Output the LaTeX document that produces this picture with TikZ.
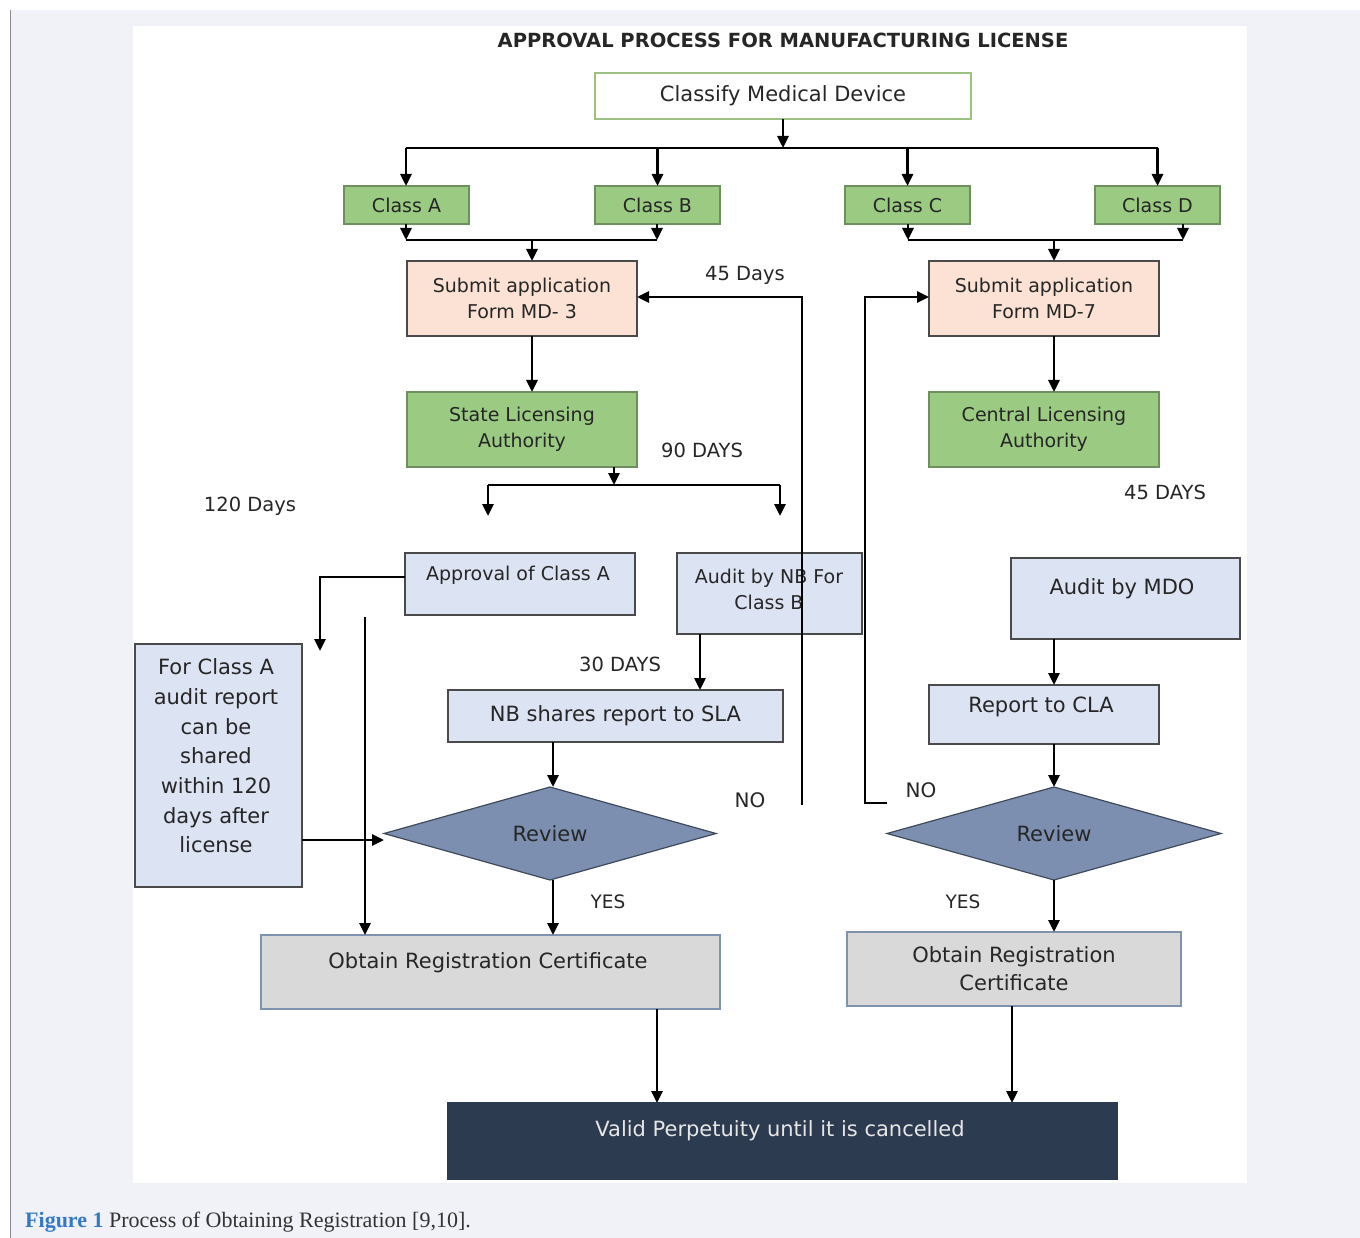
\documentclass[tikz,border=0pt]{standalone}
\usepackage{fontspec}
\setmainfont{DejaVu Sans}
\newfontfamily\serf{Liberation Serif}
\usetikzlibrary{arrows.meta,shapes.geometric}
\definecolor{bgc}{HTML}{F0F2F7}
\definecolor{bordl}{HTML}{8C8C8C}
\definecolor{txtc}{HTML}{262626}
\definecolor{grnf}{HTML}{9BCA82}
\definecolor{grnd}{HTML}{6F8F5F}
\definecolor{clsb}{HTML}{9BC283}
\definecolor{peachf}{HTML}{FBE2D4}
\definecolor{bluf}{HTML}{DCE3F3}
\definecolor{boxd}{HTML}{4A4A4A}
\definecolor{gryf}{HTML}{D9D9D9}
\definecolor{gryd}{HTML}{7F92B0}
\definecolor{diaf}{HTML}{7C8FB0}
\definecolor{diad}{HTML}{3F4A5A}
\definecolor{validf}{HTML}{2D3B50}
\definecolor{validt}{HTML}{E6E6E6}
\definecolor{capb}{HTML}{3478C6}
\definecolor{capt}{HTML}{333333}
\newcommand{\fsz}[2]{\fontsize{#1}{#2}\selectfont}
\begin{document}
\begin{tikzpicture}[x=1pt,y=-1pt,
  base/.style={rectangle, inner sep=0pt, outer sep=0pt, line width=1.2pt, text=txtc, align=center},
  grn/.style={base, fill=grnf, draw=grnd},
  peach/.style={base, fill=peachf, draw=boxd},
  blu/.style={base, fill=bluf, draw=boxd},
  gry/.style={base, fill=gryf, draw=gryd},
  dia/.style={diamond, inner sep=0pt, outer sep=0pt, fill=diaf, draw=diad, line width=1.2pt, text=txtc},
  lbl/.style={inner sep=0pt, text=txtc, align=center},
  arr/.style={line width=2.8pt, -{Triangle[length=12pt,width=11pt]}},
  ln/.style={line width=2.8pt}]
\useasboundingbox (0,0) rectangle (1360,1238);
% page background
\fill[white] (0,0) rectangle (1360,1238);
\fill[bgc] (10,10) rectangle (1360,1238);
\draw[bordl, line width=1pt] (10,10) -- (10,1238);
\fill[white] (133,26) rectangle (1247,1183);

% title
\node[lbl, font=\bfseries\fsz{19.5}{23}] (title) at (783,40) {APPROVAL PROCESS FOR MANUFACTURING LICENSE};

% boxes
\node[base, fill=white, draw=clsb, minimum width=376pt, minimum height=46pt, font=\fsz{21}{25}] (classify) at (783,96) {Classify Medical Device};
\node[grn, minimum width=125pt, minimum height=38pt, font=\fsz{19}{23}] (clsA) at (406.5,205) {Class A};
\node[grn, minimum width=125pt, minimum height=38pt, font=\fsz{19}{23}] (clsB) at (657.5,205) {Class B};
\node[grn, minimum width=125pt, minimum height=38pt, font=\fsz{19}{23}] (clsC) at (907.5,205) {Class C};
\node[grn, minimum width=125pt, minimum height=38pt, font=\fsz{19}{23}] (clsD) at (1157.5,205) {Class D};

\node[peach, minimum width=230pt, minimum height=75pt, font=\fsz{19}{26}] (md3) at (522,298.5) {Submit application\\Form MD- 3};
\node[peach, minimum width=230pt, minimum height=75pt, font=\fsz{19}{26}] (md7) at (1044,298.5) {Submit application\\Form MD-7};
\node[grn, minimum width=230pt, minimum height=75pt, font=\fsz{19}{26}] (sla) at (522,429.5) {State Licensing\\Authority};
\node[grn, minimum width=230pt, minimum height=75pt, font=\fsz{19}{26}] (cla) at (1044,429.5) {Central Licensing\\Authority};

\node[blu, minimum width=230pt, minimum height=62pt] (appA) at (520,584) {};
\node[lbl, font=\fsz{19}{23}] (appAt) at (518,575) {Approval of Class A};
\node[blu, minimum width=185pt, minimum height=81pt] (auditNB) at (769.5,593.5) {};
\node[lbl, font=\fsz{19}{26}] (auditNBt) at (769,589) {Audit by NB For\\Class B};
\node[blu, minimum width=167pt, minimum height=243pt] (forA) at (218.5,765.5) {};
\node[lbl, font=\fsz{21}{29.7}] (forAt) at (216,756) {For Class A\\audit report\\can be\\shared\\within 120\\days after\\license};
\node[blu, minimum width=335pt, minimum height=52pt, font=\fsz{21}{25}] (nbs) at (615.5,716) {NB shares report to SLA};

\node[blu, minimum width=229pt, minimum height=81pt] (mdo) at (1125.5,598.5) {};
\node[lbl, font=\fsz{21}{25}] (mdot) at (1122,589) {Audit by MDO};
\node[blu, minimum width=230pt, minimum height=59pt] (rcla) at (1044,714.5) {};
\node[lbl, font=\fsz{21}{25}] (rclat) at (1041,707) {Report to CLA};

\node[dia, minimum width=332pt, minimum height=93pt, font=\fsz{21}{25}] (rev1) at (550,833.5) {Review};
\node[dia, minimum width=334pt, minimum height=93pt, font=\fsz{21}{25}] (rev2) at (1054,833.5) {Review};

\node[gry, minimum width=459pt, minimum height=74pt] (obtL) at (490.5,972) {};
\node[lbl, font=\fsz{21}{25}] (obtLt) at (488,963) {Obtain Registration Certificate};
\node[gry, minimum width=334pt, minimum height=74pt, font=\fsz{21}{28}] (obtR) at (1014,969) {Obtain Registration\\Certificate};

\node[base, fill=validf, draw=validf, minimum width=669pt, minimum height=76pt] (valid) at (782.5,1141) {};
\node[lbl, text=validt, font=\fsz{21}{25}] (validt) at (780,1131) {Valid Perpetuity until it is cancelled};

% labels
\node[lbl, font=\fsz{19.5}{23}] (d45a) at (745,275) {45 Days};
\node[lbl, font=\fsz{19.5}{23}] (d90) at (702,450) {90 DAYS};
\node[lbl, font=\fsz{19.5}{23}] (d120) at (250,506) {120 Days};
\node[lbl, font=\fsz{19.5}{23}] (d45b) at (1165,492) {45 DAYS};
\node[lbl, font=\fsz{19.5}{23}] (d30) at (620,664) {30 DAYS};
\node[lbl, font=\fsz{20}{23}] (no1) at (750,800) {NO};
\node[lbl, font=\fsz{20}{23}] (no2) at (921,790) {NO};
\node[lbl, font=\fsz{18.5}{23}] (yes1) at (608,902) {YES};
\node[lbl, font=\fsz{18.5}{23}] (yes2) at (963,902) {YES};

% caption
\node[anchor=west, inner sep=0pt, text=capt, font=\serf\fsz{22}{26}] (cap) at (25,1222) {\textcolor{capb}{\bfseries Figure 1} Process of Obtaining Registration [9,10].};

% coordinates
\coordinate (busT) at (783,148);
\coordinate (busTa) at (406,148);
\coordinate (busTd) at (1158,148);
\coordinate (busL) at (532,240);
\coordinate (busLa) at (406,240);
\coordinate (busLb) at (657,240);
\coordinate (busR) at (1054,240);
\coordinate (busRc) at (908,240);
\coordinate (busRd) at (1183,240);
\coordinate (busS) at (614,485);
\coordinate (busSa) at (488,485);
\coordinate (busSb) at (780,485);
\coordinate (endSa) at (488,516);
\coordinate (endSb) at (780,516);
\coordinate (appCorner) at (320,577);
\coordinate (appEnd) at (320,651);
\coordinate (vStart) at (365,617);
\coordinate (noL) at (802,805);
\coordinate (noLtop) at (802,297);
\coordinate (noR) at (887,803);
\coordinate (noRbot) at (865,803);
\coordinate (noRtop) at (865,297);

% connectors
\draw[arr] (classify.south) -- (busT);
\draw[ln] (busTa) -- (busTd);
\draw[arr] (busTa) -- (busTa |- clsA.north);
\draw[arr] (clsB.north |- busT) -- (clsB.north);
\draw[arr] (clsC.north |- busT) -- (clsC.north);
\draw[arr] (clsD.north |- busT) -- (clsD.north);

\draw[arr] (busLa |- clsA.south) -- (busLa);
\draw[arr] (busLb |- clsB.south) -- (busLb);
\draw[ln] (busLa) -- (busLb);
\draw[arr] (busL) -- (busL |- md3.north);

\draw[arr] (busRc |- clsC.south) -- (busRc);
\draw[arr] (busRd |- clsD.south) -- (busRd);
\draw[ln] (busRc) -- (busRd);
\draw[arr] (busR) -- (busR |- md7.north);

\draw[arr] (busL |- md3.south) -- (busL |- sla.north);
\draw[arr] (busR |- md7.south) -- (busR |- cla.north);

\draw[arr] (busS |- sla.south) -- (busS);
\draw[ln] (busSa) -- (busSb);
\draw[arr] (busSa) -- (endSa);
\draw[arr] (busSb) -- (endSb);

\draw[arr] (appA.west |- appCorner) -- (appCorner) -- (appEnd);
\draw[arr] (vStart) -- (vStart |- obtL.north);
\draw[arr] (forA.east |- 0,840) -- (rev1.west |- 0,840);

\draw[arr] (700,0 |- auditNB.south) -- (700,0 |- nbs.north);
\draw[arr] (553,0 |- nbs.south) -- (553,0 |- rev1.north);
\draw[arr] (553,0 |- rev1.south) -- (553,0 |- obtL.north);

\draw[arr] (noL) -- (noLtop) -- (noLtop -| md3.east);
\draw[arr] (noR) -- (noRbot) -- (noRtop) -- (noRtop -| md7.west);

\draw[arr] (1054,0 |- mdo.south) -- (1054,0 |- rcla.north);
\draw[arr] (1054,0 |- rcla.south) -- (rev2.north);
\draw[arr] (rev2.south) -- (1054,0 |- obtR.north);

\draw[arr] (657,0 |- obtL.south) -- (657,0 |- valid.north);
\draw[arr] (1012,0 |- obtR.south) -- (1012,0 |- valid.north);
\end{tikzpicture}
\end{document}
